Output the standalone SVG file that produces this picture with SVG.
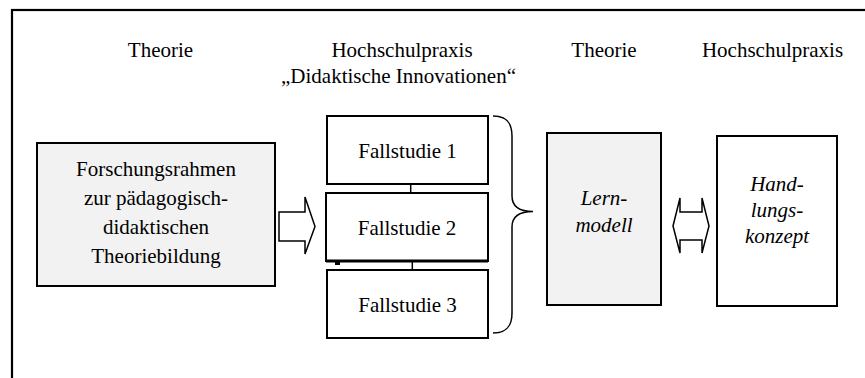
<svg xmlns="http://www.w3.org/2000/svg" width="865" height="378" viewBox="0 0 865 378">
<style>
text{font-size:21px;fill:#000;text-anchor:middle}
.it{font-style:italic}
.box{stroke:#000;stroke-width:2;fill:#fff}
.grey{fill:#f2f2f2}
.ln{stroke:#000;stroke-width:1.5;fill:none}
.arr{stroke:#000;stroke-width:1.5;fill:#fff}
</style>
<rect x="12" y="10" width="870" height="380" fill="#fff" stroke="#000" stroke-width="2.2"/>
<g font-family="Liberation Serif, serif">
<g id="headers">
<text x="160.5" y="57">Theorie</text>
<text x="402" y="57">Hochschulpraxis</text>
<text x="398.5" y="83">„Didaktische Innovationen“</text>
<text x="604" y="57">Theorie</text>
<text x="772.5" y="57">Hochschulpraxis</text>
</g>
<g id="connectors">
<line class="ln" x1="410.7" y1="184" x2="410.7" y2="193"/>
<line class="ln" x1="412.3" y1="261" x2="412.3" y2="270"/>
<polygon class="arr" points="279,212 305,212 305,197 315,226.5 305,254 305,241 279,241"/>
<polygon class="arr" points="673,226 680,198 680,212 702,212 702,198 709,226 702,253 702,240 680,240 680,253"/>
<path class="ln" d="M493,116 C506,116 512,122 512,136 L512,196 C512,206 518,211.5 533,211.5 C518,211.5 512,217 512,227 L512,313 C512,327 506,333 493,333"/>
<rect x="335" y="262" width="5" height="3" fill="#000"/>
</g>
<g id="forschungsrahmen">
<rect class="box grey" x="37" y="143" width="238" height="143"/>
<text x="156" y="176">Forschungsrahmen</text>
<text x="156" y="205">zur pädagogisch-</text>
<text x="156" y="234">didaktischen</text>
<text x="156" y="263">Theoriebildung</text>
</g>
<g id="fallstudie1">
<rect class="box" x="327" y="116" width="161" height="68"/>
<text x="407.5" y="158">Fallstudie 1</text>
</g>
<g id="fallstudie2">
<rect class="box" x="326" y="193" width="162" height="68"/>
<line x1="326" y1="261" x2="488" y2="261" stroke="#000" stroke-width="3"/>
<text x="407" y="235">Fallstudie 2</text>
</g>
<g id="fallstudie3">
<rect class="box" x="327" y="270" width="161" height="68"/>
<text x="407.5" y="312">Fallstudie 3</text>
</g>
<g id="lernmodell">
<rect class="box grey" x="547" y="133" width="114" height="172"/>
<text class="it" x="604" y="205">Lern-</text>
<text class="it" x="604" y="232">modell</text>
</g>
<g id="handlungskonzept">
<rect class="box" x="717" y="136" width="120" height="170"/>
<text class="it" x="777" y="191">Hand-</text>
<text class="it" x="777" y="217">lungs-</text>
<text class="it" x="777" y="243">konzept</text>
</g>
</g>
</svg>
